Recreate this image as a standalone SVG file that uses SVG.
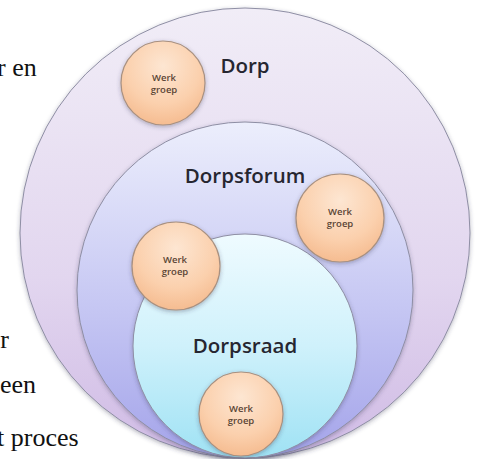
<svg xmlns="http://www.w3.org/2000/svg" width="479" height="459" viewBox="0 0 479 459">
<defs>
<linearGradient id="gOuter" x1="0" y1="0" x2="0" y2="1">
<stop offset="0" stop-color="#f1edf7"/>
<stop offset="0.6" stop-color="#e2d6ef"/>
<stop offset="1" stop-color="#d0bbe5"/>
</linearGradient>
<linearGradient id="gMid" x1="0" y1="0" x2="0" y2="1">
<stop offset="0" stop-color="#eceefc"/>
<stop offset="0.55" stop-color="#c6c7f3"/>
<stop offset="1" stop-color="#a4a4ea"/>
</linearGradient>
<linearGradient id="gIn" x1="0" y1="0" x2="0" y2="1">
<stop offset="0" stop-color="#effbff"/>
<stop offset="0.5" stop-color="#cff1fb"/>
<stop offset="1" stop-color="#9fe2f4"/>
</linearGradient>
<radialGradient id="gWg" cx="0.5" cy="0.3" r="0.75">
<stop offset="0" stop-color="#fde6d2"/>
<stop offset="0.6" stop-color="#fbd0ad"/>
<stop offset="1" stop-color="#f4b88b"/>
</radialGradient>
<filter id="sh" x="-10%" y="-10%" width="120%" height="120%">
<feDropShadow dx="0" dy="1.5" stdDeviation="2" flood-color="#303050" flood-opacity="0.35"/>
</filter>
</defs>
<style>
.ring{stroke:#8e8ea4;stroke-width:1;filter:url(#sh)}
.wg{fill:url(#gWg);stroke:#a89080;stroke-width:1.2;filter:url(#sh)}
.lbl{font-family:"Open Sans","Liberation Sans",sans-serif;font-weight:600;fill:#262630;text-anchor:middle}
.big{font-size:20.5px}
.sm{font-family:"Open Sans","Liberation Sans",sans-serif;font-size:9.5px;font-weight:600;fill:#5a4535;text-anchor:middle}
.body{font-family:"Liberation Serif","DejaVu Serif",serif;font-size:26px;fill:#111}
</style>
<rect width="479" height="459" fill="#ffffff"/>
<g id="bodytext">
<text class="body" x="-3" y="76">r en</text>
<text class="body" x="9" y="348" text-anchor="end">r</text>
<text class="body" x="36" y="393" text-anchor="end">een</text>
<text class="body" x="-3" y="446">t proces</text>
</g>
<g id="dorp">
<circle class="ring" cx="245" cy="233" r="225" fill="url(#gOuter)"/>
<text class="lbl big" x="245" y="73">Dorp</text>
</g>
<g id="dorpsforum">
<circle class="ring" cx="245" cy="290" r="168" fill="url(#gMid)"/>
<text class="lbl big" x="245" y="183">Dorpsforum</text>
</g>
<g id="dorpsraad">
<circle class="ring" cx="245" cy="346" r="112" fill="url(#gIn)"/>
<text class="lbl big" x="245" y="353">Dorpsraad</text>
</g>
<g id="werkgroep1">
<circle class="wg" cx="163" cy="83" r="42"/>
<text class="sm" x="164" y="81">Werk</text>
<text class="sm" x="164" y="93">groep</text>
</g>
<g id="werkgroep2">
<circle class="wg" cx="340" cy="218" r="44"/>
<text class="sm" x="340" y="215">Werk</text>
<text class="sm" x="340" y="227">groep</text>
</g>
<g id="werkgroep3">
<circle class="wg" cx="176" cy="266" r="44"/>
<text class="sm" x="175" y="263">Werk</text>
<text class="sm" x="175" y="275">groep</text>
</g>
<g id="werkgroep4">
<circle class="wg" cx="241" cy="414" r="42"/>
<text class="sm" x="241" y="412">Werk</text>
<text class="sm" x="241" y="424">groep</text>
</g>
<g id="connectors"/>
</svg>
